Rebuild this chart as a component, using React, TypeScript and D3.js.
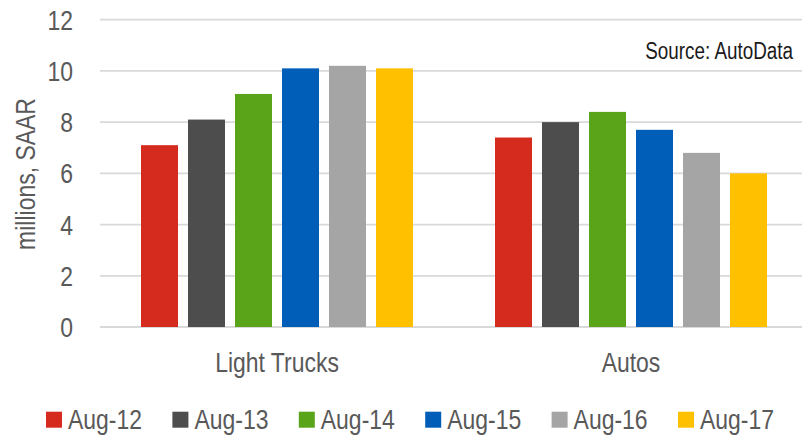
import React from 'react';
import * as d3 from 'd3';

const categories = ['Light Trucks', 'Autos'];
const seriesNames = ['Aug-12', 'Aug-13', 'Aug-14', 'Aug-15', 'Aug-16', 'Aug-17'];
const seriesColors = ['#D52B1E', '#4D4D4D', '#5AA419', '#005EB8', '#A5A5A5', '#FFC000'];
const lightTrucks = [7.1, 8.1, 9.1, 10.1, 10.2, 10.1];
const autos = [7.4, 8.0, 8.4, 7.7, 6.8, 6.0];
const yTicks = [0, 2, 4, 6, 8, 10, 12];

const seriesValues = [lightTrucks, autos];

const W = 802;
const H = 437;
const font = '"Liberation Sans", Arial, sans-serif';
const textColor = '#595959';
const NARROW = 0.82; // squeeze Arial-like font into Arial Narrow widths

// narrow text: position with translate, squeeze horizontally
const NText = ({ x, y, anchor = 'start', size = 27, fill = textColor, rotate = 0, children }: any) => (
  <text
    transform={`translate(${x}, ${y}) rotate(${rotate}) scale(${NARROW}, 1)`}
    textAnchor={anchor}
    fontFamily={font}
    fontSize={size}
    fill={fill}
  >
    {children}
  </text>
);

const App = () => {
  // plot area
  const left = 100;
  const right = 808;
  const top = 19.7;
  const bottom = 327;

  const x0 = d3.scaleBand().domain(categories).range([left, right]);
  const x1 = d3
    .scaleBand()
    .domain(seriesNames)
    .range([36, x0.bandwidth() - 36])
    .paddingInner(10 / 47)
    .paddingOuter(5 / 47);
  const y = d3.scaleLinear().domain([0, 12]).range([bottom, top]);

  return (
    <svg width={W} height={H} style={{ display: 'block', position: 'absolute', left: 0, top: 0 }}>
      <rect width={W} height={H} fill="#fff" />

      {/* gridlines */}
      {yTicks.map(t => (
        <line key={t} x1={left} x2={W} y1={y(t)} y2={y(t)} stroke="#D9D9D9" strokeWidth={1.8} />
      ))}

      {/* y tick labels */}
      {yTicks.map(t => (
        <NText key={t} x={73} y={y(t) + 10} anchor="end" size={28}>
          {t}
        </NText>
      ))}

      {/* y axis title */}
      <NText x={35} y={174} anchor="middle" rotate={-90} size={28}>
        millions, SAAR
      </NText>

      {/* bars */}
      {categories.map((c, ci) => (
        <g key={c} transform={`translate(${x0(c)}, 0)`}>
          {seriesNames.map((s, si) => {
            const v = seriesValues[ci][si];
            return (
              <rect
                key={s}
                x={x1(s)}
                y={y(v)}
                width={x1.bandwidth()}
                height={y(0) - y(v)}
                fill={seriesColors[si]}
              />
            );
          })}
        </g>
      ))}

      {/* category labels */}
      {categories.map(c => (
        <NText key={c} x={(x0(c) as number) + x0.bandwidth() / 2} y={372} anchor="middle" size={28}>
          {c}
        </NText>
      ))}

      {/* source note */}
      <NText x={793} y={59} anchor="end" size={23} fill="#1a1a1a">
        Source: AutoData
      </NText>

      {/* legend */}
      {seriesNames.map((s, i) => {
        const lx = 46 + i * 126.4;
        return (
          <g key={s} transform={`translate(${lx}, 0)`}>
            <rect x={0} y={411.7} width={16} height={16} fill={seriesColors[i]} />
            <NText x={22} y={429} size={28}>
              {s}
            </NText>
          </g>
        );
      })}
    </svg>
  );
};

export default App;
